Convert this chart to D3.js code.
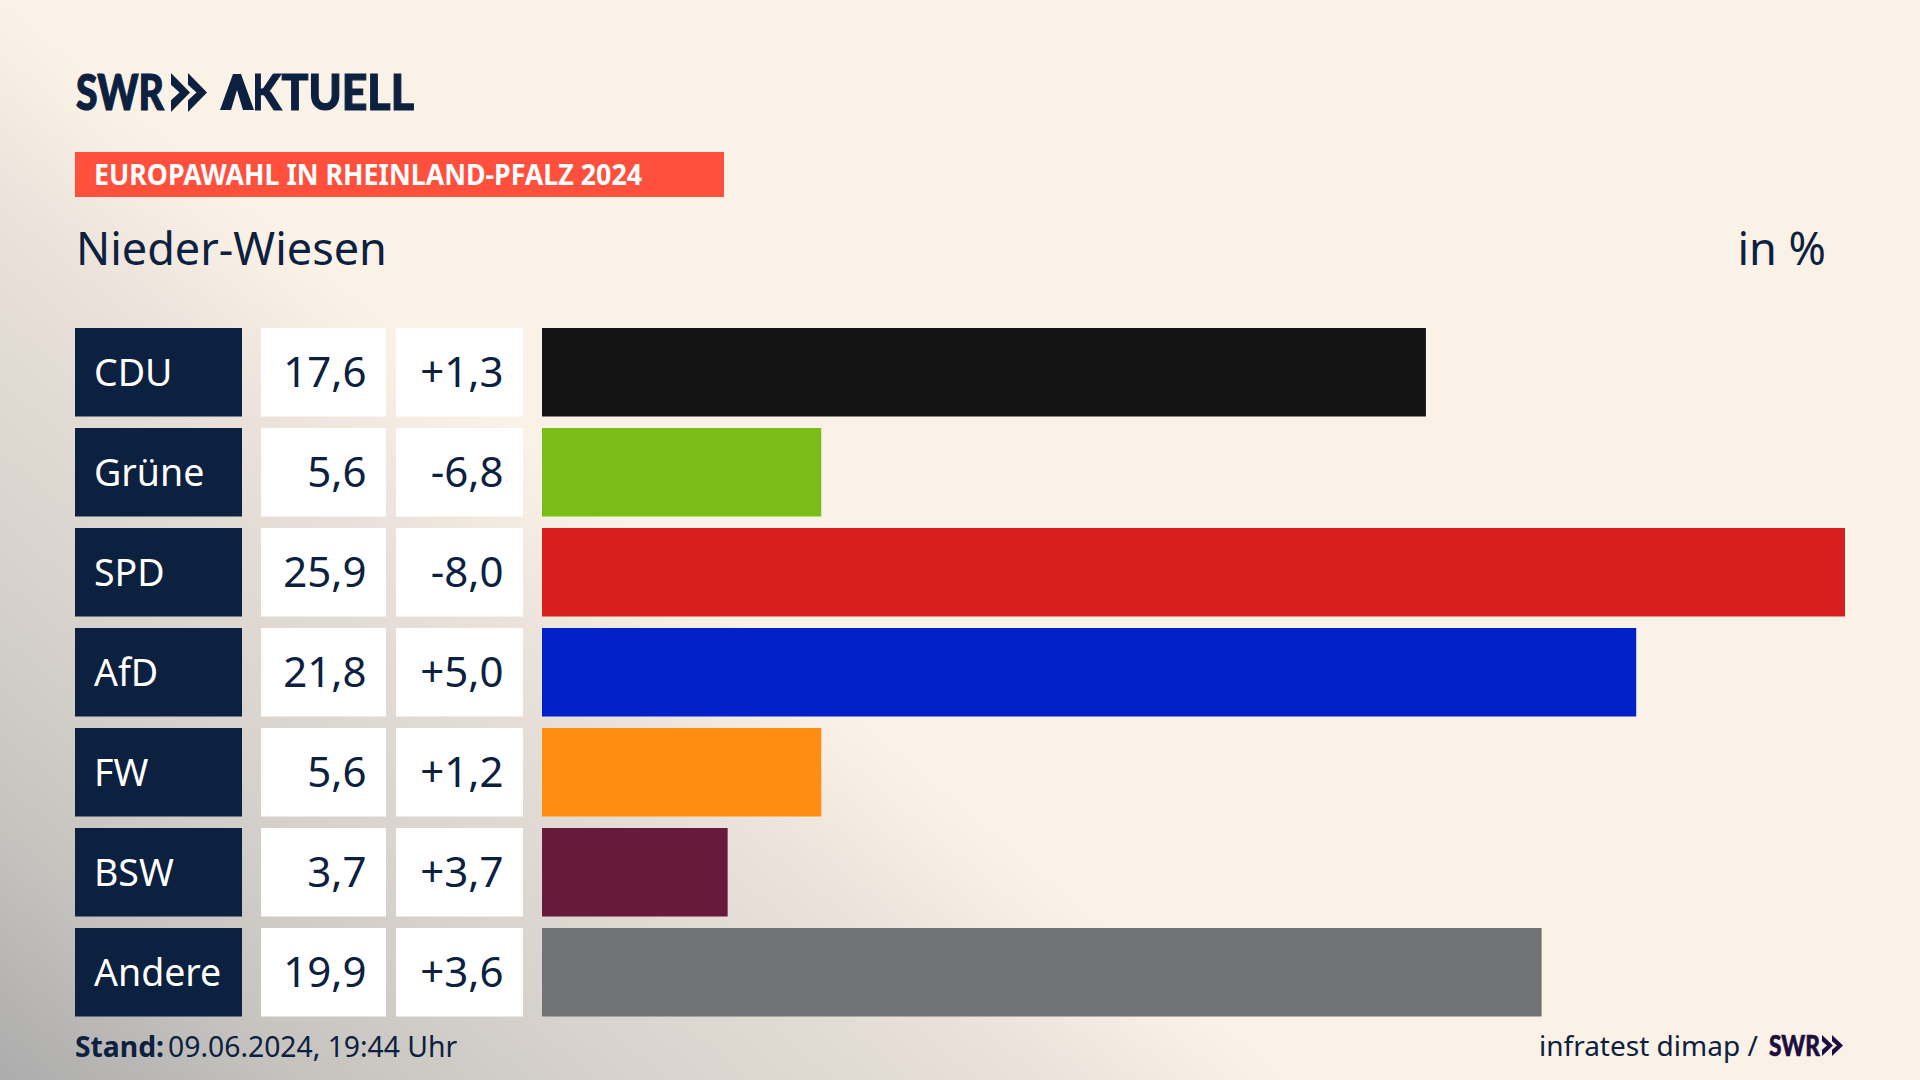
<!DOCTYPE html>
<html>
<head>
<meta charset="utf-8">
<style>
html, body { margin: 0; padding: 0; background: #fbf2e7; }
svg { display: block; }
text { font-family: "Noto Sans", sans-serif; fill: #0c2040; }
.logo { font-family: Lato, "Noto Sans", sans-serif; font-weight: 900; stroke: #0c2040; stroke-width: 1.2px; }
.logo.small { stroke: #1c0f40; stroke-width: 0.6px; fill: #1c0f40; }
</style>
</head>
<body>
<svg id="chart" width="1920" height="1080"></svg>
<script src="https://cdn.jsdelivr.net/npm/d3@7"></script>
<script>
var parties = ["CDU", "Grüne", "SPD", "AfD", "FW", "BSW", "Andere"];
// bar lengths, they run a little under the printed labels
var shares = [17.57, 5.55, 25.9, 21.75, 5.55, 3.69, 19.87];
var shareLabels = ["17,6", "5,6", "25,9", "21,8", "5,6", "3,7", "19,9"];
var changes = [1.3, -6.8, -8.0, 5.0, 1.2, 3.7, 3.6];
var barColors = ["#141414", "#7abd17", "#d7201e", "#0021c9", "#ff8d12", "#681a3c", "#707274"];

var navy = "#0c2040";
var svg = d3.select("#chart");
var defs = svg.append("defs");

// background: cream, going grey towards the bottom left corner
var bg = defs.append("linearGradient").attr("id", "bg")
    .attr("gradientUnits", "userSpaceOnUse")
    .attr("x1", 532).attr("y1", 445).attr("x2", 0).attr("y2", 1080);
[[0, "#fbf2e7"], [0.22, "#e8e0d9"], [0.5, "#d8d3cd"], [0.75, "#c7c4c0"], [1, "#acacac"]].forEach(function(s) {
  bg.append("stop").attr("offset", s[0]).attr("stop-color", s[1]);
});
svg.append("rect").attr("width", 1920).attr("height", 1080).attr("fill", "url(#bg)");

// scales
var y = d3.scaleBand().domain(parties).range([328, 1016.5]).paddingInner(0.115);
var x = d3.scaleLinear().domain([0, 25.9]).range([542, 1845]);
var fmtChange = function(v) { return (v > 0 ? "+" : "") + v.toFixed(1).replace(".", ","); };

var rows = svg.append("g").selectAll("g").data(parties).join("g")
    .attr("transform", function(d) { return "translate(0," + y(d) + ")"; });

rows.append("rect").attr("x", 75).attr("width", 167).attr("height", y.bandwidth()).attr("fill", navy);
rows.append("rect").attr("x", 261).attr("width", 125).attr("height", y.bandwidth()).attr("fill", "#fff");
rows.append("rect").attr("x", 396).attr("width", 127).attr("height", y.bandwidth()).attr("fill", "#fff");
rows.append("rect").attr("x", x(0))
    .attr("width", function(d, i) { return x(shares[i]) - x(0); })
    .attr("height", y.bandwidth())
    .attr("fill", function(d, i) { return barColors[i]; });

var baseY = y.bandwidth() / 2 + 15;
rows.append("text").attr("x", 94).attr("y", baseY - 1).attr("font-size", 37.5)
    .style("fill", "#fff").text(function(d) { return d; });
rows.append("text").attr("x", 366.5).attr("y", baseY).attr("font-size", 42).attr("text-anchor", "end")
    .text(function(d, i) { return shareLabels[i]; });
rows.append("text").attr("x", 503.5).attr("y", baseY).attr("font-size", 42).attr("text-anchor", "end")
    .text(function(d, i) { return fmtChange(changes[i]); });

// logo, the A has no crossbar: hide the glyph and draw the shape over it
var cut = defs.append("mask").attr("id", "noA").attr("maskUnits", "userSpaceOnUse")
    .attr("x", 0).attr("y", 0).attr("width", 1920).attr("height", 200);
cut.append("rect").attr("width", 1920).attr("height", 200).attr("fill", "#fff");
cut.append("rect").attr("x", 200).attr("width", 55).attr("height", 200).attr("fill", "#000");

svg.append("text").attr("class", "logo").attr("x", 76).attr("y", 110).attr("font-size", 50)
    .attr("textLength", 88).attr("lengthAdjust", "spacingAndGlyphs").text("SWR");
function chevrons(g, w, h, gap, color) {
  [0, gap].forEach(function(dx) {
    g.append("path")
      .attr("d", d3.line()([[dx, 0], [dx + w, h / 2], [dx, h], [dx, h * 0.7], [dx + w * 0.45, h / 2], [dx, h * 0.3]]) + "Z")
      .attr("fill", color);
  });
}
chevrons(svg.append("g").attr("transform", "translate(171,73)"), 19, 39, 17, navy);
svg.append("text").attr("class", "logo").attr("x", 219).attr("y", 110).attr("font-size", 50)
    .attr("textLength", 195).attr("lengthAdjust", "spacingAndGlyphs")
    .attr("mask", "url(#noA)").text("AKTUELL");
svg.append("path").attr("fill", navy)
    .attr("d", d3.line()([[220, 110], [233, 74], [241, 74], [254, 110], [243, 110], [237, 90], [231, 110]]) + "Z");

// banner
svg.append("rect").attr("x", 75).attr("y", 152).attr("width", 649).attr("height", 45).attr("fill", "#ff4f3d");
svg.append("text").attr("x", 94).attr("y", 185).attr("font-size", 28).attr("font-weight", 700)
    .style("fill", "#fff").attr("textLength", 548).attr("lengthAdjust", "spacingAndGlyphs")
    .text("EUROPAWAHL IN RHEINLAND-PFALZ 2024");

// titles
svg.append("text").attr("x", 76).attr("y", 265).attr("font-size", 45).text("Nieder-Wiesen");
svg.append("text").attr("x", 1826).attr("y", 265).attr("font-size", 45).attr("text-anchor", "end").text("in %");

// footer
var stand = svg.append("text").attr("x", 75).attr("y", 1057).attr("font-size", 28.3);
stand.append("tspan").attr("font-weight", 700).text("Stand:");
stand.append("tspan").attr("dx", 4).text("09.06.2024, 19:44 Uhr");
svg.append("text").attr("x", 1539).attr("y", 1056).attr("font-size", 28).text("infratest dimap /");
svg.append("text").attr("class", "logo small").attr("x", 1769).attr("y", 1056).attr("font-size", 28)
    .style("fill", "#1c0f40").attr("textLength", 51).attr("lengthAdjust", "spacingAndGlyphs").text("SWR");
chevrons(svg.append("g").attr("transform", "translate(1822,1035)"), 11, 21, 10, "#1c0f40");
</script>
</body>
</html>
